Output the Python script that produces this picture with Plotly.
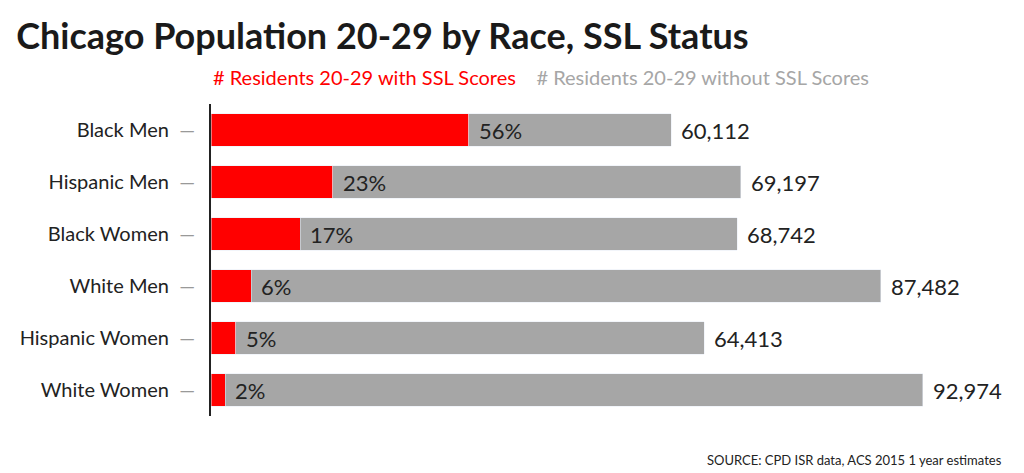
import plotly.graph_objects as go

groups = ['Black Men', 'Hispanic Men', 'Black Women', 'White Men', 'Hispanic Women', 'White Women']
totals = [60112, 69197, 68742, 87482, 64413, 92974]
pct_ssl = [56, 23, 17, 6, 5, 2]

RED = '#ff0000'
GREY = '#a6a6a6'
FONT = 'Lato'

with_ssl = [t * p / 100 for t, p in zip(totals, pct_ssl)]
without_ssl = [t - w for t, w in zip(totals, with_ssl)]

fig = go.Figure()
fig.add_trace(go.Bar(y=groups, x=with_ssl, orientation='h', marker_color=RED,
                     width=0.62, hoverinfo='skip'))
fig.add_trace(go.Bar(y=groups, x=without_ssl, orientation='h', marker_color=GREY,
                     width=0.62, hoverinfo='skip'))

# percent labels inside the grey part, totals after the bar
for g, w, t, p in zip(groups, with_ssl, totals, pct_ssl):
    fig.add_annotation(x=w, y=g, text='%d%%' % p, showarrow=False, xanchor='left',
                       xshift=8, font=dict(size=22, color='#222', family=FONT))
    fig.add_annotation(x=t, y=g, text='{:,}'.format(t), showarrow=False, xanchor='left',
                       xshift=8, font=dict(size=22, color='#222', family=FONT))

fig.update_layout(
    width=1024, height=473,
    barmode='stack', showlegend=False,
    plot_bgcolor='white', paper_bgcolor='white',
    margin=dict(l=200, r=28, t=96, b=65),
    font=dict(family=FONT, color='#222'),
    title=dict(text='<b>Chicago Population 20-29 by Race, SSL Status</b>',
               x=0.008, xanchor='left', y=0.94, yanchor='middle',
               font=dict(size=36, family=FONT, color='#1a1a1a')),
    xaxis=dict(range=[0, 103560], visible=False, fixedrange=True),
    yaxis=dict(autorange='reversed', showline=True, linecolor='#222', linewidth=1.5,
               tickmode='array', tickvals=groups,
               ticktext=[g + "  <span style='color:#999'>\u2014</span>  " for g in groups],
               ticks='', tickfont=dict(size=20, family=FONT, color='#222'),
               showgrid=False, zeroline=False),
)

fig.add_annotation(x=0, y=1.085, xref='paper', yref='paper', xanchor='left', yanchor='middle',
                   showarrow=False, font=dict(size=20, family=FONT),
                   text="<span style='color:%s'># Residents 20-29 with SSL Scores</span>"
                        "    <span style='color:%s'># Residents 20-29 without SSL Scores</span>" % (RED, GREY))
fig.add_annotation(x=1, y=-0.14, xref='paper', yref='paper', xanchor='right', yanchor='middle',
                   showarrow=False, text='SOURCE: CPD ISR data, ACS 2015 1 year estimates',
                   font=dict(size=13, family=FONT, color='#222'))

fig.write_html('out.html')
